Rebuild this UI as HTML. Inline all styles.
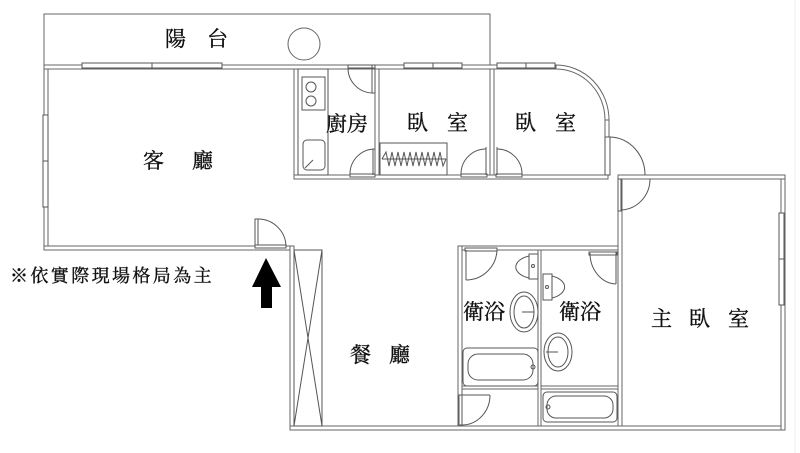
<!DOCTYPE html>
<html><head><meta charset="utf-8"><style>
html,body{margin:0;padding:0;background:#fff;width:800px;height:453px;overflow:hidden}
svg{display:block}
text{font-family:"Liberation Serif","Noto Serif CJK SC","Noto Sans CJK TC",serif;fill:#111;stroke:#111;stroke-width:0.35}
</style></head><body>
<svg width="800" height="453" viewBox="0 0 800 453" xmlns="http://www.w3.org/2000/svg">
<g fill="#fff" stroke="#666" stroke-width="1">
<polyline points="44,65 44,14 490,14 490,65" fill="none"/>
<circle cx="304" cy="44" r="16"/>
<rect x="44" y="65" width="4" height="185"/>
<rect x="44" y="65" width="512" height="4"/>
<rect x="44" y="246" width="250" height="4"/>
<rect x="290" y="246" width="4" height="184"/>
<rect x="290" y="426" width="495" height="4"/>
<rect x="781" y="178" width="4" height="252"/>
<rect x="618" y="175" width="167" height="4"/>
<rect x="294" y="175" width="314" height="4"/>
<rect x="294" y="69" width="4" height="106"/>
<rect x="375" y="69" width="4" height="106"/>
<rect x="490" y="69" width="4" height="106"/>
<rect x="605" y="120" width="4" height="55"/>
<path d="M556,65 A53,55 0 0 1 609,120 L605,120 A49,51 0 0 0 556,69 Z"/>
<rect x="618" y="179" width="4" height="247"/>
<rect x="458" y="246" width="4" height="180"/>
<rect x="462" y="246" width="156" height="4"/>
<rect x="538" y="250" width="3" height="176"/>
<rect x="462" y="386" width="76" height="3"/>
<rect x="541" y="386" width="77" height="3"/>
</g>
<g fill="#fff" stroke="#555" stroke-width="1">
<rect x="82" y="63" width="70" height="5"/><rect x="152" y="63" width="70" height="5"/>
<rect x="404" y="63" width="29" height="5"/><rect x="433" y="63" width="29" height="5"/>
<rect x="497" y="63" width="29" height="5"/><rect x="526" y="63" width="29" height="5"/>
<rect x="43" y="115" width="5" height="46"/><rect x="43" y="161" width="5" height="46"/>
<rect x="779" y="213" width="5" height="46"/><rect x="779" y="259" width="5" height="46"/>
<rect x="605" y="137" width="5" height="38"/>
</g>
<g fill="none" stroke="#555" stroke-width="1">
<rect x="255" y="219" width="3" height="28" fill="#fff"/><rect x="255" y="245" width="31" height="3" fill="#fff"/>
<path d="M258,219 A28,28 0 0 1 286,247"/>
<rect x="348" y="65" width="27" height="3" fill="#fff"/><rect x="372" y="65" width="3" height="28"/>
<path d="M348,68 A25,25 0 0 0 373,93"/>
<rect x="350" y="174" width="25" height="3" fill="#fff"/><path d="M350,174 A25,25 0 0 1 375,149"/><line x1="373" y1="149" x2="373" y2="175"/>
<rect x="461" y="174" width="26" height="3" fill="#fff"/><line x1="486" y1="147" x2="486" y2="175"/><path d="M461,174 A25,25 0 0 1 486,149"/>
<rect x="496" y="174" width="26" height="3" fill="#fff"/><line x1="497" y1="147" x2="497" y2="175"/><path d="M522,174 A25,25 0 0 0 497,149"/>
<path d="M610,137 A36,38 0 0 1 645,175"/>
<rect x="618" y="179" width="3" height="32" fill="#fff"/><path d="M621,210 A30,31 0 0 0 650,179"/>
<rect x="465" y="248" width="32" height="3" fill="#fff"/><line x1="466" y1="250" x2="466" y2="280"/><path d="M497,250 A31,31 0 0 1 466,280"/>
<rect x="589" y="252" width="28" height="3" fill="#fff"/><line x1="616" y1="252" x2="616" y2="284"/><path d="M590,253 A27,31 0 0 0 616,284"/>
<rect x="459" y="395" width="3" height="30" fill="#fff"/><line x1="462" y1="395" x2="490" y2="395"/><path d="M490,395 A28,30 0 0 1 462,425"/>
</g>
<g fill="none" stroke="#555" stroke-width="1">
<rect x="298" y="69" width="30" height="106"/>
<rect x="302" y="77" width="23" height="33"/>
<circle cx="311" cy="87" r="5"/><circle cx="311" cy="101" r="5"/>
<rect x="303" y="140" width="22" height="30" rx="4"/>
<line x1="305" y1="168" x2="313" y2="160"/>
<rect x="380" y="143" width="67" height="32"/>
<polyline points="382,159 386,152 389,166 392,152 395,166 398,152 401,166 404,152 407,166 410,152 413,166 416,152 419,166 422,152 425,166 428,152 431,166 434,152 437,166 440,152 443,166 446,159"/>
<line x1="382" y1="159" x2="446" y2="159"/>
<rect x="294" y="250" width="28" height="176"/>
<line x1="294" y1="250" x2="322" y2="426"/><line x1="322" y1="250" x2="294" y2="426"/>
<rect x="529" y="254" width="9" height="25" fill="#fff"/><path d="M529,256 A22,12 0 0 0 529,278"/><circle cx="533" cy="266" r="1.5"/>
<ellipse cx="524" cy="312" rx="14" ry="20"/><ellipse cx="524" cy="312" rx="10" ry="16"/><line x1="522" y1="312" x2="534" y2="312"/>
<rect x="463" y="348" width="75" height="38" rx="4"/><rect x="468" y="354" width="65" height="26" rx="10"/><circle cx="533" cy="367" r="2"/>
<rect x="543" y="274" width="9" height="26" fill="#fff"/><path d="M552,276 A21,12 0 0 1 552,298"/><circle cx="547" cy="287" r="1.5"/>
<ellipse cx="558" cy="352" rx="14" ry="19"/><ellipse cx="558" cy="352" rx="10" ry="15"/><line x1="546" y1="352" x2="558" y2="352"/>
<rect x="543" y="392" width="74" height="30" rx="4"/><rect x="547" y="396" width="66" height="22" rx="9"/><circle cx="548" cy="407" r="2"/>
</g>
<polygon points="266,258 281,287 272,287 272,308 261,308 261,287 252,287" fill="#000"/>
<g font-size="21">
<text x="165" y="46">陽</text><text x="207" y="46">台</text>
<text x="143" y="168">客</text><text x="192" y="168">廳</text>
<text x="326" y="131">廚房</text>
<text x="407" y="130">臥</text><text x="447" y="130">室</text>
<text x="515" y="130">臥</text><text x="555" y="130">室</text>
<text x="463" y="319">衛浴</text><text x="559" y="319">衛浴</text>
<text x="350" y="362">餐</text><text x="389" y="362">廳</text>
<text x="651" y="326">主</text><text x="689" y="326">臥</text><text x="728" y="326">室</text>
</g>
<text x="10" y="282" font-size="18" letter-spacing="2.4">※依實際現場格局為主</text>
<line x1="795" y1="0" x2="795" y2="453" stroke="#eee"/>
</svg>
</body></html>
